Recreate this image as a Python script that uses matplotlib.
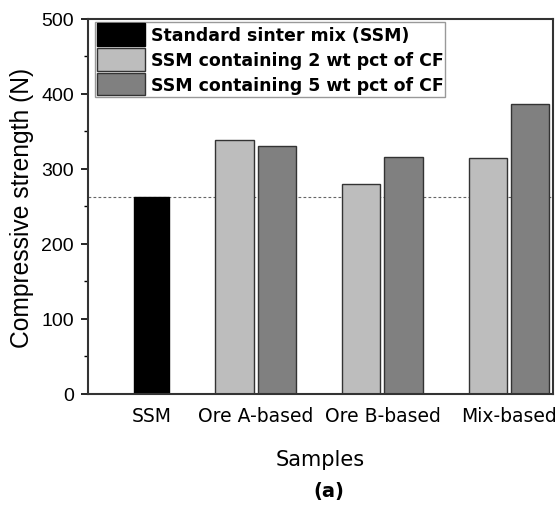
import matplotlib
matplotlib.use('Agg')
import matplotlib.pyplot as plt
from matplotlib.ticker import MultipleLocator
import numpy as np

# datos
categorias = ['SSM', 'Ore A-based', 'Ore B-based', 'Mix-based']
pos_cat = [1.18, 2.0, 3.0, 4.0]
ssm = [263]
cf2 = [339, 280, 315]   # SSM + 2 wt pct CF
cf5 = [331, 316, 386]   # SSM + 5 wt pct CF
ref = 263
etiquetas = ['Standard sinter mix (SSM)', 'SSM containing 2 wt pct of CF',
             'SSM containing 5 wt pct of CF']

fig = plt.figure(figsize=(5.57, 5.10), dpi=100)
ax = fig.add_axes([0.158, 0.2255, 0.834, 0.7355])

w = 0.30
gap = 0.016
b0 = ax.bar(pos_cat[0], ssm[0], width=0.275, color='black', edgecolor='black', lw=1)
xs = np.array(pos_cat[1:])
b1 = ax.bar(xs - w/2 - gap, cf2, width=w, color='#bdbdbd', edgecolor='#333333', lw=1)
b2 = ax.bar(xs + w/2 + gap, cf5, width=w, color='#808080', edgecolor='#333333', lw=1)

ax.axhline(ref, color='#666666', lw=0.8, ls=(0, (2.5, 2)), zorder=0.5)

ax.set_xlim(0.68, 4.34)
ax.set_ylim(0, 500)
ax.set_xticks(pos_cat)
ax.set_xticklabels(categorias, fontsize=13.5, family='DejaVu Sans')
ax.tick_params(axis='x', length=0, pad=9)
ax.yaxis.set_major_locator(MultipleLocator(100))
ax.yaxis.set_minor_locator(MultipleLocator(50))
ax.tick_params(axis='y', which='major', length=5, width=1.2, labelsize=14, pad=5)
ax.tick_params(axis='y', which='minor', length=3, width=1.0)
for lab in ax.get_yticklabels():
    lab.set_family('Liberation Sans')
for s in ax.spines.values():
    s.set_linewidth(1.5)
    s.set_color('#333333')

ax.set_ylabel('Compressive strength (N)', fontsize=17.7, family='Liberation Sans', labelpad=5)
ax.set_xlabel('Samples', fontsize=15, family='DejaVu Sans', labelpad=17)

leg = ax.legend([b0, b1, b2], etiquetas, loc='upper left', bbox_to_anchor=(0.012, 0.997),
                prop={'family': 'DejaVu Sans', 'weight': 'bold', 'size': 12.5},
                handlelength=2.75, handleheight=1.6, labelspacing=0.14,
                handletextpad=0.34, borderpad=0.1, borderaxespad=0.1,
                fancybox=False, framealpha=1)
leg.get_frame().set_edgecolor('#999999')
leg.get_frame().set_linewidth(1)

fig.text(0.59, 0.037, '(a)', fontsize=14, fontweight='bold', ha='center', va='center')

fig.savefig('out.png', dpi=100)
